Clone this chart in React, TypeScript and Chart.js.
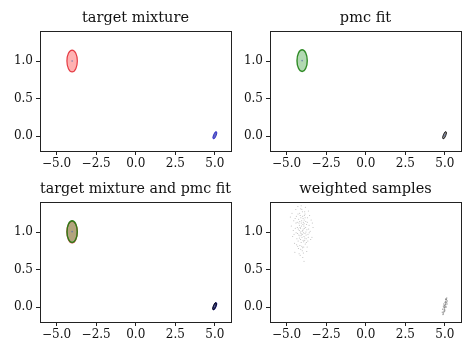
import React, { useEffect, useRef } from "react";
import { Chart, registerables } from "chart.js";

Chart.register(...registerables);

// ---- axes ----
const X_TICKS = [-5, -2.5, 0, 2.5, 5];
const X_TICK_LABELS = ["−5.0", "−2.5", "0.0", "2.5", "5.0"];
const Y_TICKS = [0, 0.5, 1.0];
const Y_TICK_LABELS = ["0.0", "0.5", "1.0"];
const X_MIN = -6.05;
const X_MAX = 6.02;
const Y_MIN = -0.2;
const Y_MAX = 1.4;

const TITLES = ["target mixture", "pmc fit", "target mixture and pmc fit", "weighted samples"];

// ---- target mixture components (center, semi-axes in data units, screen rotation in degrees) ----
const TARGET_CX = [-4.02, 5.0];
const TARGET_CY = [1.0, 0.01];
const TARGET_RX = [0.33, 0.085];
const TARGET_RY = [0.146, 0.052];
const TARGET_ROT = [0, 22];

// ---- pmc fit components ----
const FIT_CX = [-4.02, 4.98];
const FIT_CY = [1.005, 0.01];
const FIT_RX = [0.325, 0.08];
const FIT_RY = [0.145, 0.052];
const FIT_ROT = [0, 22];

// ---- weighted samples ----
const SAMPLES_A: [number, number][] = [
  [-4.02, 1.01], [-3.91, 1.08], [-4.15, 0.95], [-3.85, 0.92], [-4.22, 1.12], [-3.96, 1.18],
  [-4.31, 0.98], [-3.72, 1.03], [-4.08, 0.86], [-3.88, 1.22], [-4.45, 1.05], [-3.65, 0.97],
  [-4.18, 1.25], [-3.99, 0.79], [-4.27, 0.88], [-3.79, 1.14], [-4.55, 1.15], [-3.58, 1.09],
  [-4.11, 1.31], [-3.94, 0.72], [-4.38, 1.21], [-3.82, 0.84], [-4.62, 0.94], [-3.51, 1.01],
  [-4.05, 1.15], [-3.93, 0.99], [-4.12, 1.05], [-3.87, 1.05], [-4.2, 1.02], [-3.76, 0.91],
  [-4.35, 0.91], [-4.0, 1.27], [-3.68, 1.19], [-4.42, 1.3], [-3.98, 0.66], [-4.25, 0.78],
  [-3.7, 0.8], [-4.5, 0.85], [-3.45, 1.16], [-4.7, 1.08], [-3.4, 0.93], [-4.08, 1.35],
  [-3.9, 0.61], [-4.14, 0.69], [-3.62, 1.28], [-4.48, 0.73], [-3.33, 1.06], [-4.76, 1.2],
  [-3.81, 1.33], [-4.29, 1.34], [-3.97, 1.1], [-4.03, 0.93], [-4.1, 1.19], [-3.84, 0.98],
  [-4.23, 0.96], [-3.74, 1.1], [-4.16, 0.82], [-3.92, 0.87], [-4.06, 1.08], [-3.95, 1.04],
  [-4.33, 1.13], [-3.66, 0.88], [-4.4, 0.99], [-3.55, 1.22], [-4.19, 1.09], [-3.89, 1.16],
  [-4.01, 0.75], [-4.28, 1.24], [-3.77, 0.96], [-4.58, 1.02], [-3.48, 0.9], [-4.12, 0.9],
  [-3.86, 1.27], [-4.37, 0.83], [-3.61, 1.04], [-4.66, 1.25], [-3.37, 1.12], [-4.21, 0.71],
  [-3.73, 0.74], [-4.46, 1.18], [-3.8, 1.06], [-4.09, 0.98], [-3.99, 1.21], [-4.17, 1.14],
  [-3.9, 0.94], [-4.04, 0.81], [-4.26, 1.04], [-3.83, 1.19], [-3.96, 0.89], [-4.13, 1.0],
  [-4.07, 1.12], [-3.94, 1.13], [-4.24, 1.17], [-3.78, 1.0], [-4.14, 1.22], [-3.86, 0.89],
  [-4.32, 1.06], [-3.69, 1.13], [-4.0, 0.97], [-4.19, 0.92], [-3.92, 0.8], [-4.41, 1.12],
  [-3.63, 0.93], [-4.11, 0.77], [-3.84, 1.24], [-4.53, 0.97], [-3.57, 0.99], [-4.04, 1.3],
  [-3.75, 0.86], [-4.3, 0.81], [-3.98, 1.02], [-4.06, 0.96], [-3.89, 1.11], [-4.15, 1.06],
];
const SAMPLES_B: [number, number][] = [
  [4.98, -0.01], [5.02, 0.03], [5.05, 0.05], [4.95, -0.04], [5.0, 0.01], [5.08, 0.08],
  [4.92, -0.07], [5.03, 0.0], [4.97, 0.02], [5.1, 0.1], [4.9, -0.09], [5.06, 0.03],
  [4.99, -0.03], [5.01, 0.06], [4.94, -0.01], [5.12, 0.12], [4.96, -0.06], [5.04, 0.07],
  [4.88, -0.1], [5.07, 0.11], [4.86, -0.03], [5.14, 0.04], [4.91, 0.01], [5.09, 0.0],
  [4.84, -0.07], [5.16, 0.08], [4.93, 0.04], [5.11, 0.06], [5.0, -0.05], [5.05, 0.1],
];

type Ell = { cx: number; cy: number; rx: number; ry: number; rot: number; fill: string; stroke: string; lw: number };

const targetEllipses = (): Ell[] => [
  { cx: TARGET_CX[0], cy: TARGET_CY[0], rx: TARGET_RX[0], ry: TARGET_RY[0], rot: TARGET_ROT[0], fill: "rgba(255,0,0,0.3)", stroke: "rgba(225,30,40,0.85)", lw: 1.2 },
  { cx: TARGET_CX[1], cy: TARGET_CY[1], rx: TARGET_RX[1], ry: TARGET_RY[1], rot: TARGET_ROT[1], fill: "rgba(0,0,160,0.6)", stroke: "rgba(40,40,200,0.9)", lw: 1 },
];
const fitEllipses = (): Ell[] => [
  { cx: FIT_CX[0], cy: FIT_CY[0], rx: FIT_RX[0], ry: FIT_RY[0], rot: FIT_ROT[0], fill: "rgba(0,128,0,0.3)", stroke: "rgba(30,130,20,0.9)", lw: 1.4 },
  { cx: FIT_CX[1], cy: FIT_CY[1], rx: FIT_RX[1], ry: FIT_RY[1], rot: FIT_ROT[1], fill: "rgba(0,0,0,0.4)", stroke: "rgba(0,0,0,0.85)", lw: 1 },
];

type PanelSpec = {
  title: string;
  left: number;
  top: number;
  ellipses: Ell[];
  datasets: any[];
};

const meanDots = (xs: number[], ys: number[]) => ({
  data: xs.map((x, i) => ({ x, y: ys[i] })),
  pointRadius: 0.8,
  pointBackgroundColor: "rgba(90,110,170,0.8)",
  pointBorderWidth: 0,
  showLine: false,
});

const PANELS: PanelSpec[] = [
  { title: TITLES[0], left: 0, top: 0, ellipses: targetEllipses(), datasets: [meanDots(TARGET_CX, TARGET_CY)] },
  { title: TITLES[1], left: 230, top: 0, ellipses: fitEllipses(), datasets: [meanDots(FIT_CX, FIT_CY)] },
  { title: TITLES[2], left: 0, top: 171, ellipses: [...targetEllipses(), ...fitEllipses()], datasets: [meanDots(FIT_CX, FIT_CY)] },
  {
    title: TITLES[3], left: 230, top: 171, ellipses: [],
    datasets: [
      { data: SAMPLES_A.map(([x, y]) => ({ x, y })), pointRadius: 0.6, pointBackgroundColor: "rgba(0,0,0,0.25)", pointBorderWidth: 0, showLine: false },
      { data: SAMPLES_B.map(([x, y]) => ({ x, y })), pointRadius: 0.7, pointBackgroundColor: "rgba(0,0,0,0.35)", pointBorderWidth: 0, showLine: false },
    ],
  },
];

const CANVAS_W = 239;
const CANVAS_H = 175;
const FONT = "'DejaVu Serif', serif";

const framePlugin = {
  id: "frameAndEllipses",
  beforeDatasetsDraw(chart: any) {
    const ells: Ell[] = chart.options.plugins.frameAndEllipses?.ellipses || [];
    const { ctx, chartArea, scales } = chart;
    ctx.save();
    ctx.beginPath();
    ctx.rect(chartArea.left, chartArea.top, chartArea.right - chartArea.left, chartArea.bottom - chartArea.top);
    ctx.clip();
    for (const e of ells) {
      const px = scales.x.getPixelForValue(e.cx);
      const py = scales.y.getPixelForValue(e.cy);
      const rxp = Math.abs(scales.x.getPixelForValue(e.cx + e.rx) - px);
      const ryp = Math.abs(scales.y.getPixelForValue(e.cy + e.ry) - py);
      ctx.beginPath();
      ctx.ellipse(px, py, rxp, ryp, (e.rot * Math.PI) / 180, 0, Math.PI * 2);
      ctx.fillStyle = e.fill;
      ctx.fill();
      ctx.lineWidth = e.lw;
      ctx.strokeStyle = e.stroke;
      ctx.stroke();
    }
    ctx.restore();
  },
  afterDraw(chart: any) {
    const { ctx, chartArea } = chart;
    ctx.save();
    ctx.strokeStyle = "#222";
    ctx.lineWidth = 1;
    ctx.strokeRect(
      Math.round(chartArea.left) + 0.5,
      Math.round(chartArea.top) + 0.5,
      Math.round(chartArea.right - chartArea.left),
      Math.round(chartArea.bottom - chartArea.top)
    );
    ctx.restore();
  },
};

function Panel({ spec }: { spec: PanelSpec }) {
  const ref = useRef<HTMLCanvasElement>(null);
  useEffect(() => {
    if (!ref.current) return;
    const chart = new Chart(ref.current, {
      type: "scatter",
      data: { datasets: spec.datasets },
      plugins: [framePlugin],
      options: {
        responsive: false,
        animation: false,
        devicePixelRatio: 1,
        layout: { padding: { left: 0, right: 8, top: 0, bottom: 0 } },
        plugins: {
          legend: { display: false },
          tooltip: { enabled: false },
          title: {
            display: true,
            text: spec.title,
            fullSize: false,
            color: "#111",
            font: { family: FONT, size: 14.5, weight: "normal", lineHeight: 1.2 },
            padding: { top: 9.8, bottom: 3.8 },
          },
          // @ts-ignore
          frameAndEllipses: { ellipses: spec.ellipses },
        },
        scales: {
          x: {
            type: "linear",
            min: X_MIN,
            max: X_MAX,
            afterBuildTicks: (axis: any) => {
              axis.ticks = X_TICKS.map((v) => ({ value: v }));
            },
            afterFit: (s: any) => {
              s.height = 24;
            },
            ticks: {
              autoSkip: false,
              maxRotation: 0,
              padding: 2,
              color: "#111",
              font: { family: FONT, size: 12 },
              callback: (_v: any, i: number) => X_TICK_LABELS[i],
            },
            grid: { display: true, drawOnChartArea: false, drawTicks: true, tickLength: 4, color: "#222", lineWidth: 1 },
            border: { display: false },
          },
          y: {
            type: "linear",
            min: Y_MIN,
            max: Y_MAX,
            afterBuildTicks: (axis: any) => {
              axis.ticks = Y_TICKS.map((v) => ({ value: v }));
            },
            afterFit: (s: any) => {
              s.width = 40;
            },
            ticks: {
              autoSkip: false,
              padding: 3,
              color: "#111",
              font: { family: FONT, size: 12 },
              callback: (_v: any, i: number) => Y_TICK_LABELS[i],
            },
            grid: { display: true, drawOnChartArea: false, drawTicks: true, tickLength: 4, color: "#222", lineWidth: 1 },
            border: { display: false },
          },
        },
      } as any,
    });
    return () => chart.destroy();
  }, [spec]);
  return (
    <canvas
      ref={ref}
      width={CANVAS_W}
      height={CANVAS_H}
      style={{ position: "absolute", left: spec.left, top: spec.top, width: CANVAS_W, height: CANVAS_H }}
    />
  );
}

export default function App() {
  return (
    <div style={{ position: "fixed", left: 0, top: 0, width: 474, height: 355, background: "#fff" }}>
      {PANELS.map((p, i) => (
        <Panel key={i} spec={p} />
      ))}
    </div>
  );
}
